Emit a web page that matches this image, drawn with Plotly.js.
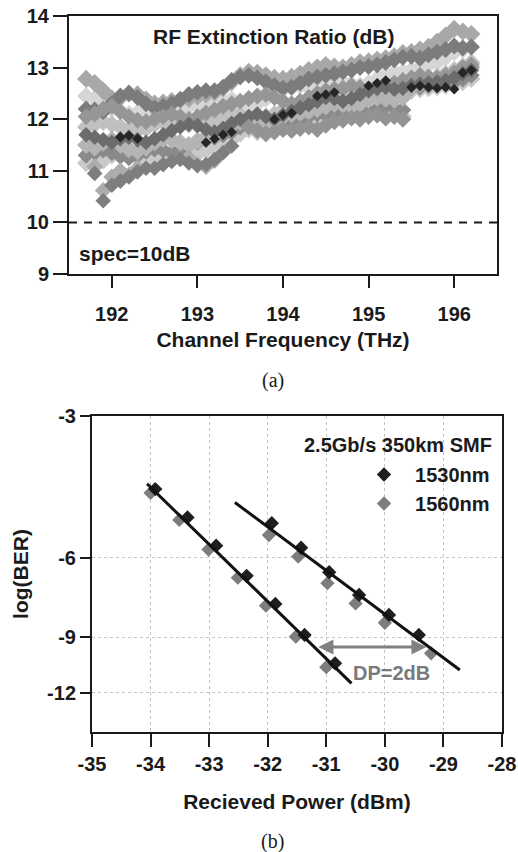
<!DOCTYPE html>
<html>
<head>
<meta charset="utf-8">
<script src="https://cdn.plot.ly/plotly-3.0.1.min.js"></script>
<style>
  html, body { margin: 0; padding: 0; background: #ffffff; }
  #chart { width: 518px; height: 852px; }
</style>
</head>
<body>
<div id="chart"></div>
<script>
// ---------------- (a) RF extinction ratio vs channel frequency ----------------
const freqTHz = [191.7,191.8,191.9,192.0,192.1,192.2,192.3,192.4,192.5,192.6,
                 192.7,192.8,192.9,193.0,193.1,193.2,193.3,193.4,193.5,193.6,
                 193.7,193.8,193.9,194.0,194.1,194.2,194.3,194.4,194.5,194.6,
                 194.7,194.8,194.9,195.0,195.1,195.2,195.3,195.4,195.5,195.6,
                 195.7,195.8,195.9,196.0,196.1,196.2];

const erS1 = [12.78,12.70,12.55,12.40,12.42, 12.50,12.48,12.38,12.30,12.32,
              12.35,12.38,12.40,12.44,12.48, 12.52,12.60,12.72,12.85,12.92,
              12.90,12.85,12.80,12.78,12.82, 12.88,12.95,13.00,13.05,13.02,
              13.00,13.05,13.10,13.12,13.15, 13.18,13.22,13.28,13.30,13.35,
              13.40,13.50,13.62,13.75,13.70, 13.65];
const erS2 = [12.20,12.18,12.15,12.30,12.45, 12.50,12.42,12.30,12.22,12.25,
              12.30,12.38,12.48,12.52,12.55, 12.55,12.62,12.75,12.82,12.85,
              12.80,12.72,12.65,12.60,12.62, 12.70,12.78,12.82,12.85,12.88,
              12.92,12.95,13.00,13.02,13.05, 13.10,13.15,13.20,13.22,13.18,
              13.25,13.30,13.35,13.42,13.38, 13.40];
const erS3 = [12.45,12.40,12.30,12.20,12.15, 12.10,12.12,12.18,12.22,12.20,
              12.18,12.20,12.25,12.28,12.30, 12.32,12.35,12.38,12.30,12.25,
              12.30,12.40,12.50,12.58,12.62, 12.65,12.62,12.60,12.65,12.70,
              12.72,12.68,12.65,12.70,12.78, 12.85,12.90,12.92,12.95,13.00,
              13.05,13.10,13.20,13.30,13.35, 13.40];
const erS4 = [12.05,12.10,12.20,12.25,12.15, 12.05,11.98,11.95,12.00,12.05,
              12.10,12.05,12.00,12.05,12.12, 12.18,12.25,12.30,12.35,12.40,
              12.45,12.48,12.42,12.35,12.30, 12.35,12.42,12.50,12.55,12.58,
              12.60,12.65,12.62,12.58,12.60, 12.65,12.70,12.75,12.80,12.85,
              12.82,12.80,12.85,12.90,13.00, 13.05];
const erS5 = [11.85,11.90,11.95,11.90,11.85, 11.80,11.78,11.82,11.90,11.95,
              12.00,11.95,11.90,11.88,11.92, 11.98,12.05,12.10,12.08,12.02,
              12.00,12.05,12.10,12.18,12.25, 12.30,12.28,12.32,12.38,12.42,
              12.45,12.50,12.55,12.52,12.48, 12.50,12.55,12.62,12.70,12.75,
              12.78,12.82,12.88,12.95,13.02, 13.10];
const erS6 = [11.70,11.65,11.60,11.55,11.62, 11.65,11.60,11.55,11.62,11.70,
              11.78,11.85,11.90,11.88,11.80, 11.75,11.82,11.92,12.00,12.05,
              12.10,12.05,12.00,12.08,12.15, 12.22,12.28,12.35,12.42,12.40,
              12.35,12.40,12.48,12.55,12.60, 12.62,12.58,12.60,12.65,12.68,
              12.70,12.72,12.75,12.80,12.88, 12.95];
const erS7 = [11.50,11.45,11.55,11.60,11.50, 11.42,11.38,11.45,11.55,11.62,
              11.60,11.55,11.50,11.58,11.65, 11.72,11.80,11.88,11.95,11.98,
              11.95,11.92,11.98,12.05,12.10, 12.12,12.15,12.20,12.25,12.30,
              12.28,12.25,12.30,12.38,12.42, 12.40,12.38,12.42,12.62,12.68,
              12.72,12.75,12.80,12.85,12.92, 13.00];
const erS8 = [11.30,11.35,11.40,11.35,11.28, 11.25,11.30,11.38,11.42,11.40,
              11.35,11.42,11.50,11.55,11.60, 11.65,11.70,11.75,11.85,11.92,
              11.90,11.85,11.82,11.88,11.95, 12.00,12.05,12.10,12.08,12.12,
              12.18,12.22,12.18,12.15,12.20, 12.25,12.22,12.18,12.60,12.62,
              12.65,12.68,12.70,12.72,12.78, 12.85];
const erS9 = [11.15,11.10,11.20,11.30,11.35, 11.32,11.25,11.18,11.22,11.30,
              11.35,11.30,11.25,11.32,11.40, 11.45,11.52,11.60,11.72,11.80,
              11.75,11.72,11.78,11.85,11.90, 11.88,11.92,11.98,12.05,12.08,
              12.10,12.15,12.12,12.08,12.10, 12.15,12.10,12.05,12.55,12.58,
              12.60,12.62,12.65,12.68,12.72, 12.78];
const erS10 = [null,10.95,10.42,10.72,10.80, 10.88,10.98,11.05,11.05,11.12,
               11.18,11.22,11.15,11.10,11.12, 11.22,11.35,11.48,null,null,
               null,null,null,null,null, null,null,null,null,null,
               null,null,null,null,null, null,null,null,null,null,
               null,null,null,null,null, null];
const erS11 = [null,11.08,10.62,10.88,11.00, 10.92,11.05,null,null,null,
               null,null,11.25,11.12,11.08, 11.20,null,null,null,null,
               null,null,null,null,null, null,null,null,null,null,
               null,null,null,null,null, null,null,null,null,null,
               null,null,null,null,null, null];
const erS12 = [null,null,null,null,null, null,null,null,null,null,
               null,null,null,null,null, null,null,null,null,11.85,
               11.78,11.72,11.75,11.80,11.78, 11.82,11.85,11.80,11.88,11.95,
               11.98,12.02,12.00,12.05,12.08, 12.02,12.05,12.00,null,null,
               null,null,null,null,null, null];
const erS13 = [null,null,null,null,11.65, 11.68,11.62,null,null,null,
               null,null,null,null,11.55, 11.62,11.70,11.75,null,null,
               null,null,12.00,12.08,12.12, null,null,12.45,12.48,12.52,
               null,null,null,12.65,12.70, 12.75,null,null,12.62,12.65,
               12.62,12.60,12.62,12.58,12.90, 12.95];

const erSeries = [erS9, erS3, erS8, erS1, erS5, erS2, erS7, erS4, erS11, erS6, erS10, erS12, erS13];
const erColors = ['#c9c9c9','#d6d6d6','#8a8a8a','#a8a8a8','#c0c0c0','#7c7c7c','#b4b4b4','#969696','#acacac','#6c6c6c','#7e7e7e','#939393','#262626'];
const erSizes  = [14,14,13,14,14,13,14,13,13,12,12,13,8];
const freqTicks = [192,193,194,195,196];
const erTicks = [9,10,11,12,13,14];
const specLevel = 10;

// ---------------- (b) BER vs received power ----------------
const powerLeft1530  = [-33.92,-33.37,-32.88,-32.36,-31.87,-31.37,-30.85];
const logBerLeft1530 = [-4.26,-4.90,-5.64,-6.57,-7.58,-8.89,-10.30];
const powerRight1530  = [-31.93,-31.43,-30.95,-30.44,-29.93,-29.42];
const logBerRight1530 = [-5.04,-5.70,-6.45,-7.24,-8.02,-8.89];
const powerLeft1560  = [-34.00,-33.51,-33.01,-32.51,-32.03,-31.52,-31.00];
const logBerLeft1560 = [-4.34,-4.96,-5.75,-6.63,-7.65,-8.97,-10.51];
const powerRight1560  = [-31.98,-31.48,-30.98,-30.50,-30.00,-29.21];
const logBerRight1560 = [-5.35,-5.96,-6.82,-7.56,-8.35,-9.78];
const fitLeftPower  = [-34.06,-30.57];
const fitLeftLogBer = [-4.15,-11.43];
const fitRightPower  = [-32.56,-28.72];
const fitRightLogBer = [-4.55,-10.66];
const powerTicks = [-35,-34,-33,-32,-31,-30,-29,-28];
const berTicks = [-3,-6,-9,-12];
const berAxisLimits = [-14.75,-3];
const dpArrowPower = [-31.16,-29.29];
const dpArrowLogBer = -9.46;
const dpLabelPos = [-29.88,-10.83];

// BER axis scale: log of (-log10(BER) - offset), drawn on Plotly's log axis
const berOffset = 0.4;
const toAxis = L => -L - berOffset;

const F = 'Liberation Sans, Arial, Helvetica, sans-serif';
const INK = '#1a1a1a';
const bold = (size, color) => ({family: F, size: size, weight: 'bold', color: color || INK});

const traces = [];
erSeries.forEach((s, i) => {
  traces.push({
    type: 'scatter', mode: 'markers', x: freqTHz, y: s, xaxis: 'x', yaxis: 'y',
    marker: {symbol: 'diamond', size: erSizes[i], color: erColors[i], line: {width: 0}},
    showlegend: false, hoverinfo: 'x+y'
  });
});

traces.push({
  type: 'scatter', mode: 'markers', name: '\u00a0\u00a01560nm',
  x: powerLeft1560.concat(powerRight1560),
  y: logBerLeft1560.concat(logBerRight1560).map(toAxis),
  xaxis: 'x2', yaxis: 'y2',
  marker: {symbol: 'diamond', size: 11, color: '#7d7d7d'}
});
traces.push({
  type: 'scatter', mode: 'markers', name: '\u00a0\u00a01530nm',
  x: powerLeft1530.concat(powerRight1530),
  y: logBerLeft1530.concat(logBerRight1530).map(toAxis),
  xaxis: 'x2', yaxis: 'y2',
  marker: {symbol: 'diamond', size: 11, color: '#1e1e1e'}
});
[[fitLeftPower, fitLeftLogBer], [fitRightPower, fitRightLogBer]].forEach(p => {
  traces.push({
    type: 'scatter', mode: 'lines', x: p[0], y: p[1].map(toAxis),
    xaxis: 'x2', yaxis: 'y2', line: {color: '#111111', width: 3}, showlegend: false
  });
});

const W = 518, H = 852;
const axCommon = {
  showline: true, linewidth: 2, linecolor: INK, mirror: true, zeroline: false,
  ticks: 'outside', tickwidth: 2, tickcolor: INK, tickfont: bold(20)
};

const layout = {
  width: W, height: H,
  margin: {l: 0, r: 0, t: 0, b: 0},
  paper_bgcolor: '#ffffff', plot_bgcolor: '#ffffff',
  showlegend: true,
  legend: {x: 364 / W, y: (H - 455) / H, xanchor: 'left', yanchor: 'top',
           font: bold(20), bgcolor: 'rgba(0,0,0,0)', traceorder: 'reversed',
           tracegroupgap: 0, itemclick: false},
  xaxis: Object.assign({}, axCommon, {
    domain: [69 / W, 497 / W], anchor: 'y', range: [191.5, 196.5],
    tickvals: freqTicks, ticklen: 12, showgrid: false, ticklabelstandoff: 9,
    title: {text: 'Channel Frequency (THz)', font: bold(21), standoff: 8}
  }),
  yaxis: Object.assign({}, axCommon, {
    domain: [(H - 274) / H, (H - 16) / H], anchor: 'x', range: [9, 14],
    tickvals: erTicks, ticklen: 14, showgrid: false
  }),
  xaxis2: Object.assign({}, axCommon, {
    domain: [92 / W, 502 / W], anchor: 'y2', range: [-35, -28],
    tickvals: powerTicks, ticktext: powerTicks.map(String), ticklen: 13,
    showgrid: true, gridcolor: '#c4c4c4', gridwidth: 1, griddash: 'dot',
    title: {text: 'Recieved Power (dBm)', font: bold(21), standoff: 20}
  }),
  yaxis2: Object.assign({}, axCommon, {
    domain: [(H - 732) / H, (H - 416) / H], anchor: 'x2', type: 'log',
    range: [Math.log10(toAxis(berAxisLimits[0])), Math.log10(toAxis(berAxisLimits[1]))],
    tickvals: berTicks.map(toAxis), ticktext: berTicks.map(String), ticklen: 10,
    showgrid: true, gridcolor: '#c4c4c4', gridwidth: 1, griddash: 'dot',
    title: {text: 'log(BER)', font: bold(21), standoff: 13}
  }),
  shapes: [{
    type: 'line', xref: 'x domain', yref: 'y', x0: 0, x1: 1, y0: specLevel, y1: specLevel,
    line: {color: INK, width: 2, dash: '8px,7px'}
  }],
  annotations: [
    {xref: 'x domain', yref: 'y domain', x: 0.477, y: 0.919, yanchor: 'middle',
     text: 'RF Extinction Ratio (dB)', showarrow: false, font: bold(21)},
    {xref: 'x domain', yref: 'y domain', x: 0.018, y: 0.081, xanchor: 'left', yanchor: 'middle',
     text: 'spec=10dB', showarrow: false, font: bold(21)},
    {xref: 'x2 domain', yref: 'y2 domain', x: 0.981, y: 0.908, xanchor: 'right', yanchor: 'middle',
     text: '2.5Gb/s 350km SMF', showarrow: false, font: bold(20)},
    {xref: 'x2', yref: 'y2', x: dpArrowPower[1], y: Math.log10(toAxis(dpArrowLogBer)),
     ax: dpArrowPower[0], ay: Math.log10(toAxis(dpArrowLogBer)), axref: 'x2', ayref: 'y2',
     text: '', showarrow: true, arrowhead: 2, arrowside: 'end+start', arrowsize: 1,
     arrowwidth: 3, arrowcolor: '#808080', standoff: 0, startstandoff: 0},
    {xref: 'x2', yref: 'y2', x: dpLabelPos[0], y: Math.log10(toAxis(dpLabelPos[1])), yanchor: 'middle',
     text: 'DP=2dB', showarrow: false, font: bold(20, '#7a7a7a')},
    {xref: 'paper', yref: 'paper', x: 273 / W, y: (H - 381) / H, yanchor: 'middle', text: '(a)', showarrow: false,
     font: {family: 'Liberation Serif, Times New Roman, serif', size: 20, color: INK}},
    {xref: 'paper', yref: 'paper', x: 272 / W, y: (H - 841) / H, yanchor: 'middle', text: '(b)', showarrow: false,
     font: {family: 'Liberation Serif, Times New Roman, serif', size: 20, color: INK}}
  ]
};

Plotly.newPlot('chart', traces, layout, {staticPlot: true, displayModeBar: false});
</script>
</body>
</html>
